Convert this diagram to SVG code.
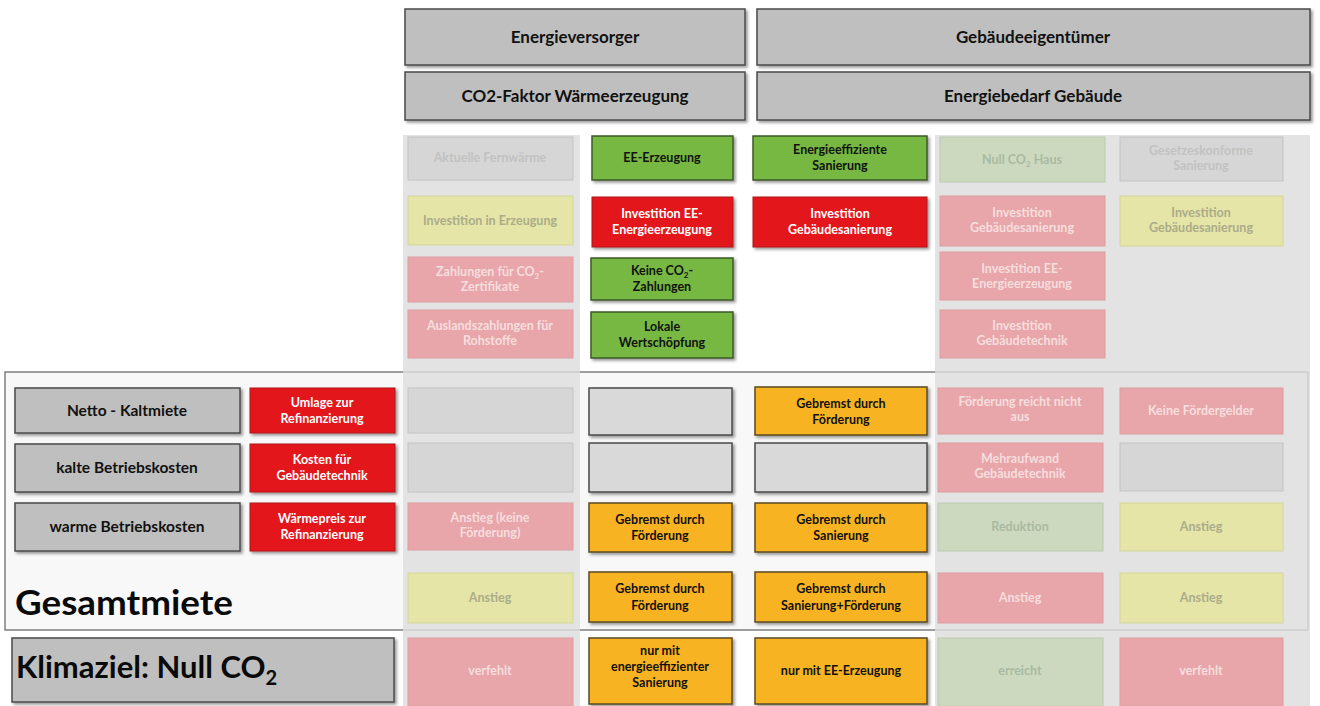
<svg xmlns="http://www.w3.org/2000/svg" width="1320" height="706" viewBox="0 0 1320 706">
<style>
text{font-family:Lato,"Open Sans","Liberation Sans",sans-serif;font-weight:bold;text-anchor:middle}
.hd rect{fill:#bfbfbf;stroke:#4a4a4a;stroke-width:1.5}
.hd text{font-size:17px;fill:#111}
.lb rect{fill:#bfbfbf;stroke:#4a4a4a;stroke-width:1.5}
.lb text{font-size:15.5px;fill:#111}
.bx text{font-size:12.5px}
.g rect{fill:#76b843;stroke:#3c5a28;stroke-width:1.5}
.g text{fill:#111}
.r rect{fill:#e3191f;stroke:#b01217;stroke-width:1}
.r text{fill:#fff}
.o rect{fill:#f8b324;stroke:#5a4a20;stroke-width:1.5}
.o text{fill:#111}
.e rect{fill:#d9d9d9;stroke:#4a4a4a;stroke-width:1.5}
.fg rect{fill:#d6d6d6;stroke:#c4c4c4;stroke-width:1}
.fg text{fill:#c2c2c2}
.fy rect{fill:#e4e5a6;stroke:#d5d69c;stroke-width:1}
.fy text{fill:#acac8a}
.fr rect{fill:#e8a6aa;stroke:#dc9ea1;stroke-width:1}
.fr text{fill:#f6dede}
.fn rect{fill:#ccd9bf;stroke:#bccab0;stroke-width:1}
.fn text{fill:#aab9a0}
.sh{filter:url(#sh)}
</style>
<defs>
<filter id="sh" x="-10%" y="-10%" width="130%" height="140%">
<feDropShadow dx="2" dy="2" stdDeviation="1.5" flood-color="#000" flood-opacity="0.4"/>
</filter>
</defs>
<rect x="0" y="0" width="1320" height="706" fill="#ffffff"/>
<!-- Gesamtmiete panel -->
<rect x="5" y="372" width="1303" height="258" fill="#f8f8f8" stroke="#7f7f7f" stroke-width="1.5"/>
<!-- faded column backgrounds -->
<rect x="403" y="135" width="177" height="571" fill="#e1e1e1" opacity="0.92"/>
<rect x="935" y="135" width="375" height="571" fill="#e1e1e1" opacity="0.92"/>
<line x1="403" y1="372" x2="580" y2="372" stroke="#cfcfcf" stroke-width="1.5"/>
<line x1="403" y1="630" x2="580" y2="630" stroke="#cfcfcf" stroke-width="1.5"/>
<line x1="935" y1="372" x2="1308" y2="372" stroke="#cfcfcf" stroke-width="1.5"/>
<line x1="935" y1="630" x2="1308" y2="630" stroke="#cfcfcf" stroke-width="1.5"/>
<line x1="1308" y1="372" x2="1308" y2="630" stroke="#cfcfcf" stroke-width="1.5"/>

<g id="connectors"/>

<!-- headers -->
<g id="h-energieversorger" class="hd"><rect class="sh" x="405" y="9" width="340" height="56"/><text x="575" y="43">Energieversorger</text></g>
<g id="h-gebaeudeeigentuemer" class="hd"><rect class="sh" x="757" y="9" width="553" height="56"/><text x="1033" y="43">Gebäudeeigentümer</text></g>
<g id="h-co2faktor" class="hd"><rect class="sh" x="405" y="72" width="340" height="48"/><text x="575" y="102">CO2-Faktor Wärmeerzeugung</text></g>
<g id="h-energiebedarf" class="hd"><rect class="sh" x="757" y="72" width="553" height="48"/><text x="1033" y="102">Energiebedarf Gebäude</text></g>

<!-- column 1 faded top -->
<g id="c1a" class="bx fg"><rect x="408" y="137" width="165" height="43"/><text x="490" y="162">Aktuelle Fernwärme</text></g>
<g id="c1b" class="bx fy"><rect x="408" y="196" width="165" height="49"/><text x="490" y="225">Investition in Erzeugung</text></g>
<g id="c1c" class="bx fr"><rect x="408" y="257" width="165" height="45"/><text x="490" y="276">Zahlungen für CO<tspan font-size="8" dy="3">2</tspan><tspan dy="-3">-</tspan></text><text x="490" y="291">Zertifikate</text></g>
<g id="c1d" class="bx fr"><rect x="408" y="310" width="165" height="48"/><text x="490" y="330">Auslandszahlungen für</text><text x="490" y="345">Rohstoffe</text></g>

<!-- column 2 top -->
<g id="c2a" class="bx g"><rect class="sh" x="592" y="136" width="141" height="44"/><text x="662" y="162">EE-Erzeugung</text></g>
<g id="c2b" class="bx r"><rect class="sh" x="592" y="197" width="141" height="50"/><text x="662" y="218">Investition EE-</text><text x="662" y="234">Energieerzeugung</text></g>
<g id="c2c" class="bx g"><rect class="sh" x="591" y="258" width="142" height="42"/><text x="662" y="275">Keine CO<tspan font-size="8" dy="3">2</tspan><tspan dy="-3">-</tspan></text><text x="662" y="291">Zahlungen</text></g>
<g id="c2d" class="bx g"><rect class="sh" x="591" y="312" width="142" height="46"/><text x="662" y="331">Lokale</text><text x="662" y="347">Wertschöpfung</text></g>

<!-- column 3 top -->
<g id="c3a" class="bx g"><rect class="sh" x="753" y="136" width="174" height="44"/><text x="840" y="154">Energieeffiziente</text><text x="840" y="170">Sanierung</text></g>
<g id="c3b" class="bx r"><rect class="sh" x="753" y="197" width="174" height="50"/><text x="840" y="218">Investition</text><text x="840" y="234">Gebäudesanierung</text></g>

<!-- column 4 faded top -->
<g id="c4a" class="bx fn"><rect x="940" y="137" width="165" height="45"/><text x="1022" y="164">Null CO<tspan font-size="8" dy="3">2</tspan><tspan dy="-3"> Haus</tspan></text></g>
<g id="c4b" class="bx fr"><rect x="940" y="196" width="165" height="50"/><text x="1022" y="217">Investition</text><text x="1022" y="232">Gebäudesanierung</text></g>
<g id="c4c" class="bx fr"><rect x="940" y="252" width="165" height="48"/><text x="1022" y="273">Investition EE-</text><text x="1022" y="288">Energieerzeugung</text></g>
<g id="c4d" class="bx fr"><rect x="940" y="310" width="165" height="48"/><text x="1022" y="330">Investition</text><text x="1022" y="345">Gebäudetechnik</text></g>

<!-- column 5 faded top -->
<g id="c5a" class="bx fg"><rect x="1120" y="137" width="163" height="44"/><text x="1201" y="155">Gesetzeskonforme</text><text x="1201" y="170">Sanierung</text></g>
<g id="c5b" class="bx fy"><rect x="1120" y="196" width="163" height="50"/><text x="1201" y="217">Investition</text><text x="1201" y="232">Gebäudesanierung</text></g>

<!-- left labels -->
<g id="l-netto" class="lb"><rect class="sh" x="15" y="388" width="225" height="45"/><text x="127" y="416">Netto - Kaltmiete</text></g>
<g id="l-kalte" class="lb"><rect class="sh" x="15" y="444" width="225" height="48"/><text x="127" y="473">kalte Betriebskosten</text></g>
<g id="l-warme" class="lb"><rect class="sh" x="15" y="503" width="225" height="48"/><text x="127" y="532">warme Betriebskosten</text></g>
<g id="l-umlage" class="bx r"><rect class="sh" x="250" y="388" width="145" height="45"/><text x="322" y="407">Umlage zur</text><text x="322" y="423">Refinanzierung</text></g>
<g id="l-kosten" class="bx r"><rect class="sh" x="250" y="444" width="145" height="48"/><text x="322" y="464">Kosten für</text><text x="322" y="480">Gebäudetechnik</text></g>
<g id="l-waermepreis" class="bx r"><rect class="sh" x="250" y="503" width="145" height="48"/><text x="322" y="523">Wärmepreis zur</text><text x="322" y="539">Refinanzierung</text></g>
<g id="l-gesamtmiete"><text x="15" y="615" font-size="34" textLength="218" lengthAdjust="spacingAndGlyphs" style="text-anchor:start;fill:#0a0a0a">Gesamtmiete</text></g>
<g id="l-klimaziel" class="lb"><rect class="sh" x="12" y="638" width="382" height="64"/><text x="16" y="678" style="text-anchor:start;font-size:31px;fill:#0a0a0a">Klimaziel: Null CO<tspan style="font-size:20px" dy="7">2</tspan></text></g>

<!-- column 1 faded lower -->
<g id="c1e" class="bx fg"><rect x="408" y="388" width="165" height="45"/></g>
<g id="c1f" class="bx fg"><rect x="408" y="443" width="165" height="49"/></g>
<g id="c1g" class="bx fr"><rect x="408" y="503" width="165" height="47"/><text x="490" y="522">Anstieg (keine</text><text x="490" y="537">Förderung)</text></g>
<g id="c1h" class="bx fy"><rect x="408" y="573" width="165" height="50"/><text x="490" y="602">Anstieg</text></g>
<g id="c1i" class="bx fr"><rect x="408" y="638" width="165" height="68"/><text x="490" y="675">verfehlt</text></g>

<!-- column 2 lower -->
<g id="c2e" class="bx e"><rect class="sh" x="589" y="388" width="143" height="47"/></g>
<g id="c2f" class="bx e"><rect class="sh" x="589" y="443" width="143" height="49"/></g>
<g id="c2g" class="bx o"><rect class="sh" x="589" y="503" width="143" height="49"/><text x="660" y="524">Gebremst durch</text><text x="660" y="540">Förderung</text></g>
<g id="c2h" class="bx o"><rect class="sh" x="589" y="572" width="143" height="50"/><text x="660" y="593">Gebremst durch</text><text x="660" y="610">Förderung</text></g>
<g id="c2i" class="bx o"><rect class="sh" x="589" y="638" width="143" height="66"/><text x="660" y="655">nur mit</text><text x="660" y="671">energieeffizienter</text><text x="660" y="687">Sanierung</text></g>

<!-- column 3 lower -->
<g id="c3e" class="bx o"><rect class="sh" x="755" y="387" width="172" height="48"/><text x="841" y="408">Gebremst durch</text><text x="841" y="424">Förderung</text></g>
<g id="c3f" class="bx e"><rect class="sh" x="755" y="443" width="172" height="49"/></g>
<g id="c3g" class="bx o"><rect class="sh" x="755" y="503" width="172" height="49"/><text x="841" y="524">Gebremst durch</text><text x="841" y="540">Sanierung</text></g>
<g id="c3h" class="bx o"><rect class="sh" x="755" y="572" width="172" height="50"/><text x="841" y="593">Gebremst durch</text><text x="841" y="610">Sanierung+Förderung</text></g>
<g id="c3i" class="bx o"><rect class="sh" x="755" y="638" width="172" height="66"/><text x="841" y="675">nur mit EE-Erzeugung</text></g>

<!-- column 4 faded lower -->
<g id="c4e" class="bx fr"><rect x="938" y="388" width="165" height="46"/><text x="1020" y="406">Förderung reicht nicht</text><text x="1020" y="421">aus</text></g>
<g id="c4f" class="bx fr"><rect x="938" y="443" width="165" height="49"/><text x="1020" y="463">Mehraufwand</text><text x="1020" y="478">Gebäudetechnik</text></g>
<g id="c4g" class="bx fn"><rect x="938" y="503" width="165" height="48"/><text x="1020" y="531">Reduktion</text></g>
<g id="c4h" class="bx fr"><rect x="938" y="573" width="165" height="50"/><text x="1020" y="602">Anstieg</text></g>
<g id="c4i" class="bx fn"><rect x="938" y="638" width="165" height="68"/><text x="1020" y="675">erreicht</text></g>

<!-- column 5 faded lower -->
<g id="c5e" class="bx fr"><rect x="1120" y="388" width="163" height="46"/><text x="1201" y="415">Keine Fördergelder</text></g>
<g id="c5f" class="bx fg"><rect x="1120" y="443" width="163" height="48"/></g>
<g id="c5g" class="bx fy"><rect x="1120" y="503" width="163" height="48"/><text x="1201" y="531">Anstieg</text></g>
<g id="c5h" class="bx fy"><rect x="1120" y="573" width="163" height="50"/><text x="1201" y="602">Anstieg</text></g>
<g id="c5i" class="bx fr"><rect x="1120" y="638" width="163" height="68"/><text x="1201" y="675">verfehlt</text></g>
</svg>
